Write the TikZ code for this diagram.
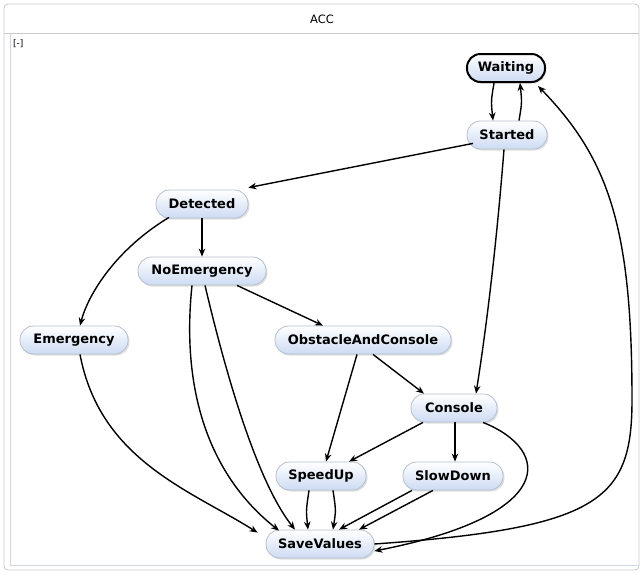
\documentclass[tikz,border=0pt]{standalone}
\usepackage{fontspec}
\setmainfont{DejaVu Sans}
\usetikzlibrary{arrows.meta,shadows}
\definecolor{nodebot}{RGB}{205,219,243}
\definecolor{nodeedge}{RGB}{180,190,205}
\definecolor{frameedge}{RGB}{200,200,200}
\definecolor{inneredge}{RGB}{205,215,232}
\tikzset{
  st/.style={draw=nodeedge, line width=0.8pt, rounded corners=13.5pt, minimum height=28pt,
    top color=white, bottom color=nodebot, font=\fontsize{13}{15}\selectfont\bfseries,
    inner sep=0pt, drop shadow={shadow xshift=1.5pt, shadow yshift=-1.5pt, opacity=0.25, fill=gray}},
  initst/.style={st, draw=black, line width=2pt},
  tr/.style={line width=1.4pt, -{Stealth[length=8pt,width=6.5pt]}},
}
\begin{document}
\begin{tikzpicture}[x=1pt,y=-1pt]
\useasboundingbox (0,0) rectangle (643,574);
% frame
\draw[frameedge, line width=0.8pt, rounded corners=4pt] (4,4) rectangle (639,570);
\draw[frameedge, line width=0.8pt] (4,33) -- (639,33);
\draw[inneredge, line width=1pt] (10,34) -- (10,565) -- (639,565);
\node[font=\fontsize{11.5}{13}\selectfont] (title) at (322,19) {ACC};
\node[font=\fontsize{9}{11}\selectfont, anchor=north west, inner sep=0pt] (collapse) at (13,39) {[-]};
% states
\node[initst, minimum width=78pt] (W) at (506,68) {Waiting};
\node[st, minimum width=80pt] (S) at (507,135) {Started};
\node[st, minimum width=92pt] (D) at (202,204) {Detected};
\node[st, minimum width=128pt] (NE) at (202,271) {NoEmergency};
\node[st, minimum width=108pt] (E) at (74,340) {Emergency};
\node[st, minimum width=176pt] (OC) at (363,340) {ObstacleAndConsole};
\node[st, minimum width=86pt] (C) at (454,408) {Console};
\node[st, minimum width=90pt] (SU) at (321,476) {SpeedUp};
\node[st, minimum width=100pt] (SD) at (453,476) {SlowDown};
\node[st, minimum width=108pt] (SV) at (320,544) {SaveValues};
% transitions
\draw[tr] ([xshift=-12pt]W.south) .. controls +(-3,18) .. ([xshift=-14pt]S.north);
\draw[tr] ([xshift=12pt]S.north) .. controls +(3,-18) .. ([xshift=14pt]W.south);
\draw[tr] ([xshift=-34pt,yshift=6pt]S.south) -- ([yshift=2pt]D.north east);
\draw[tr] ([xshift=-3pt]S.south) .. controls (496,250) and (486,330) .. ([xshift=22pt]C.north);
\draw[tr] (SV.east) .. controls (600,528) and (632,500) .. (632,400)
          .. controls (632,230) and (610,160) .. ([xshift=-8pt,yshift=-3pt]W.south east);
\draw[tr] (D.south) -- (NE.north);
\draw[tr] ([xshift=-33pt,yshift=1pt]D.south) .. controls (115,250) and (88,295) .. ([xshift=6pt]E.north);
\draw[tr] ([xshift=35pt]NE.south) -- ([xshift=-40pt]OC.north);
\draw[tr] ([xshift=-10pt]NE.south) .. controls (180,400) and (215,480) .. ([xshift=-41pt,yshift=-1pt]SV.north);
\draw[tr] ([xshift=3pt]NE.south) .. controls (232,400) and (262,488) .. ([xshift=-25pt]SV.north);
\draw[tr] ([xshift=6pt]E.south) .. controls (100,460) and (190,490) .. ([xshift=-8pt,yshift=-3pt]SV.north west);
\draw[tr] ([xshift=10pt]OC.south) -- ([xshift=-30pt]C.north);
\draw[tr] ([xshift=-6pt]OC.south) -- ([xshift=5pt]SU.north);
\draw[tr] ([xshift=-31pt]C.south) -- ([xshift=28pt]SU.north);
\draw[tr] ([xshift=1pt]C.south) -- ([xshift=2pt]SD.north);
\draw[tr] ([xshift=29pt]C.south) .. controls (552,450) and (558,515) .. ([yshift=-7pt]SV.east);
\draw[tr] ([xshift=-12pt]SU.south) .. controls +(-3,20) .. ([xshift=-12pt]SV.north);
\draw[tr] ([xshift=12pt]SU.south) .. controls +(3,20) .. ([xshift=13pt]SV.north);
\draw[tr] ([xshift=-41pt]SD.south) -- ([xshift=19pt]SV.north);
\draw[tr] ([xshift=-20pt]SD.south) -- ([xshift=39pt]SV.north);
\end{tikzpicture}
\end{document}
